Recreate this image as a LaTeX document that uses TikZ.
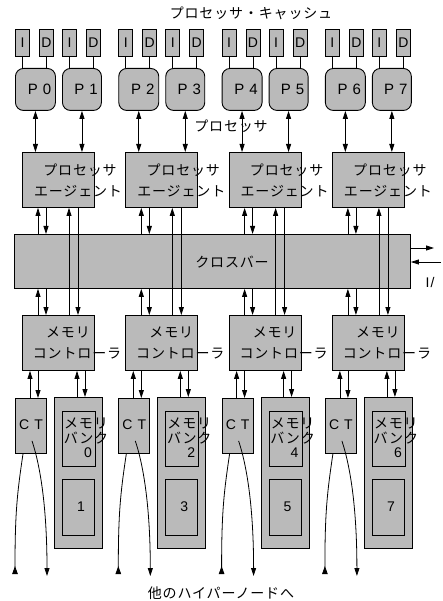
\documentclass[tikz,border=0pt]{standalone}
\usepackage{fontspec}
\setmainfont{Liberation Sans}
\newfontfamily\jp[LetterSpace=6]{Noto Sans CJK JP}
\usetikzlibrary{arrows.meta,calc}
\tikzset{
  box/.style={draw, line width=0.9pt, fill=black!27, inner sep=0pt, anchor=north west},
  cache/.style={box, minimum width=14pt, minimum height=27pt, font=\fontsize{14}{14}\selectfont},
  pbox/.style={box, rounded corners=8pt, minimum width=40pt, minimum height=42pt, font=\fontsize{15}{15}\selectfont},
  jt/.style={font=\jp\fontsize{14}{16}\selectfont, inner sep=0pt},
  lt/.style={font=\fontsize{14}{14}\selectfont, inner sep=0pt},
  conn/.style={line width=0.8pt},
}
\begin{document}
\begin{tikzpicture}[x=1pt,y=-1pt, >={Triangle[length=8pt,width=5pt]}, line width=0.8pt]
\useasboundingbox (0,0) rectangle (442,601);
\node[jt] (title) at (251,13) {プロセッサ・キャッシュ};
\node[jt] (plabel) at (231,126) {プロセッサ};
\foreach \k in {0,...,3}{
  \pgfmathsetmacro\o{\k*103.3}
  \pgfmathtruncatemacro\na{2*\k}
  \pgfmathtruncatemacro\nb{2*\k+1}
  % caches
  \node[cache] (ia\k) at (15+\o,29) {I};
  \node[cache] (da\k) at (39+\o,29) {D};
  \node[cache] (ib\k) at (62+\o,29) {I};
  \node[cache] (db\k) at (86+\o,29) {D};
  % processors
  \node[pbox] (pa\k) at (15+\o,68) {\hspace{8pt}P\hspace{5pt}\na};
  \node[pbox, minimum width=39pt] (pb\k) at (62+\o,68) {\hspace{8pt}P\hspace{5pt}\nb};
  \draw[conn] (ia\k.south) -- (ia\k.south |- pa\k.north);
  \draw[conn] (da\k.south) -- (da\k.south |- pa\k.north);
  \draw[conn] (ib\k.south) -- (ib\k.south |- pb\k.north);
  \draw[conn] (db\k.south) -- (db\k.south |- pb\k.north);
  % agent
  \node[box, minimum width=72pt, minimum height=55pt] (ag\k) at (22+\o,152) {};
  \node[jt] (agt\k) at (80+\o,170) {プロセッサ};
  \node[jt] (agu\k) at (78+\o,191) {エージェント};
  % memory controller
  \node[box, minimum width=72pt, minimum height=55pt] (mc\k) at (22+\o,315) {};
  \node[jt] (mct\k) at (68+\o,332) {メモリ};
  \node[jt] (mcu\k) at (77+\o,353) {コントローラ};
  % CT
  \node[box, minimum width=31pt, minimum height=55pt] (ct\k) at (15+\o,398) {};
  \node[lt] (ctt\k) at (31+\o,425) {C\hspace{5pt}T};
  % memory bank
  \node[box, minimum width=48pt, minimum height=151pt] (mb\k) at (54+\o,397) {};
  \node[box, minimum width=33pt, minimum height=55pt] (mba\k) at (62+\o,411) {};
  \node[box, minimum width=32pt, minimum height=56pt] (mbb\k) at (62+\o,479) {};
  \node[jt] (mbt\k) at (86+\o,423) {メモリ};
  \node[jt] (mbu\k) at (86+\o,438) {バンク};
  \node[lt] (mbn\k) at (88+\o,453) {\na};
  \node[lt] (mbm\k) at (81+\o,507) {\nb};
}
% crossbar
\node[box, minimum width=396pt, minimum height=54pt] (xb) at (14,234) {};
\node[jt] (xbt) at (232,262) {クロスバー};
\coordinate (ioout) at (434,248);
\coordinate (ioin) at (441,262);
\draw[conn,->] (xb.east |- ioout) -- (ioout);
\draw[conn,->] (ioin) -- (ioin -| xb.east);
\node[lt] (io) at (430,282) {I\hspace{1pt}/};
\foreach \k in {0,...,3}{
  \pgfmathsetmacro\o{\k*103.3}
  % processor <-> agent
  \draw[conn,<->] (pa\k.south) -- (pa\k.south |- ag\k.north);
  \draw[conn,<->] (pb\k.south) -- (pb\k.south |- ag\k.north);
  % agent <-> crossbar
  \draw[conn,<-] ([xshift=16pt]ag\k.south west) -- ([xshift=16pt]ag\k.south west |- xb.north);
  \draw[conn,->] ([xshift=24pt]ag\k.south west) -- ([xshift=24pt]ag\k.south west |- xb.north);
  % agent <-> memory controller (direct)
  \draw[conn,<-] ([xshift=47pt]ag\k.south west) -- ([xshift=47pt]mc\k.north west);
  \draw[conn,->] ([xshift=56pt]ag\k.south west) -- ([xshift=56pt]mc\k.north west);
  % crossbar <-> memory controller
  \draw[conn,<-] ([xshift=16pt]mc\k.north west |- xb.south) -- ([xshift=16pt]mc\k.north west);
  \draw[conn,->] ([xshift=24pt]mc\k.north west |- xb.south) -- ([xshift=24pt]mc\k.north west);
  % memory controller <-> CT / bank
  \draw[conn,<-] ([xshift=8pt]mc\k.south west) -- ([xshift=8pt]mc\k.south west |- ct\k.north);
  \draw[conn,->] ([xshift=16pt]mc\k.south west) -- ([xshift=16pt]mc\k.south west |- ct\k.north);
  \draw[conn,<-] ([xshift=55pt]mc\k.south west) -- ([xshift=55pt]mc\k.south west |- mb\k.north);
  \draw[conn,->] ([xshift=63pt]mc\k.south west) -- ([xshift=63pt]mc\k.south west |- mb\k.north);
  % to other hypernodes
  \coordinate (la\k) at (15+\o,574);
  \coordinate (lb\k) at (47+\o,576);
  \draw[conn,-{Triangle[length=8pt,width=5.5pt,reversed]}] ([xshift=8pt]ct\k.south west) .. controls +(-6,40) and +(0,-60) .. (la\k);
  \draw[conn,->] ([xshift=17pt,yshift=13pt]ct\k.south west) .. controls +(10,30) and +(0,-60) .. (lb\k);
}
\node[jt] (bottom) at (221,593) {他のハイパーノードへ};
\end{tikzpicture}
\end{document}
